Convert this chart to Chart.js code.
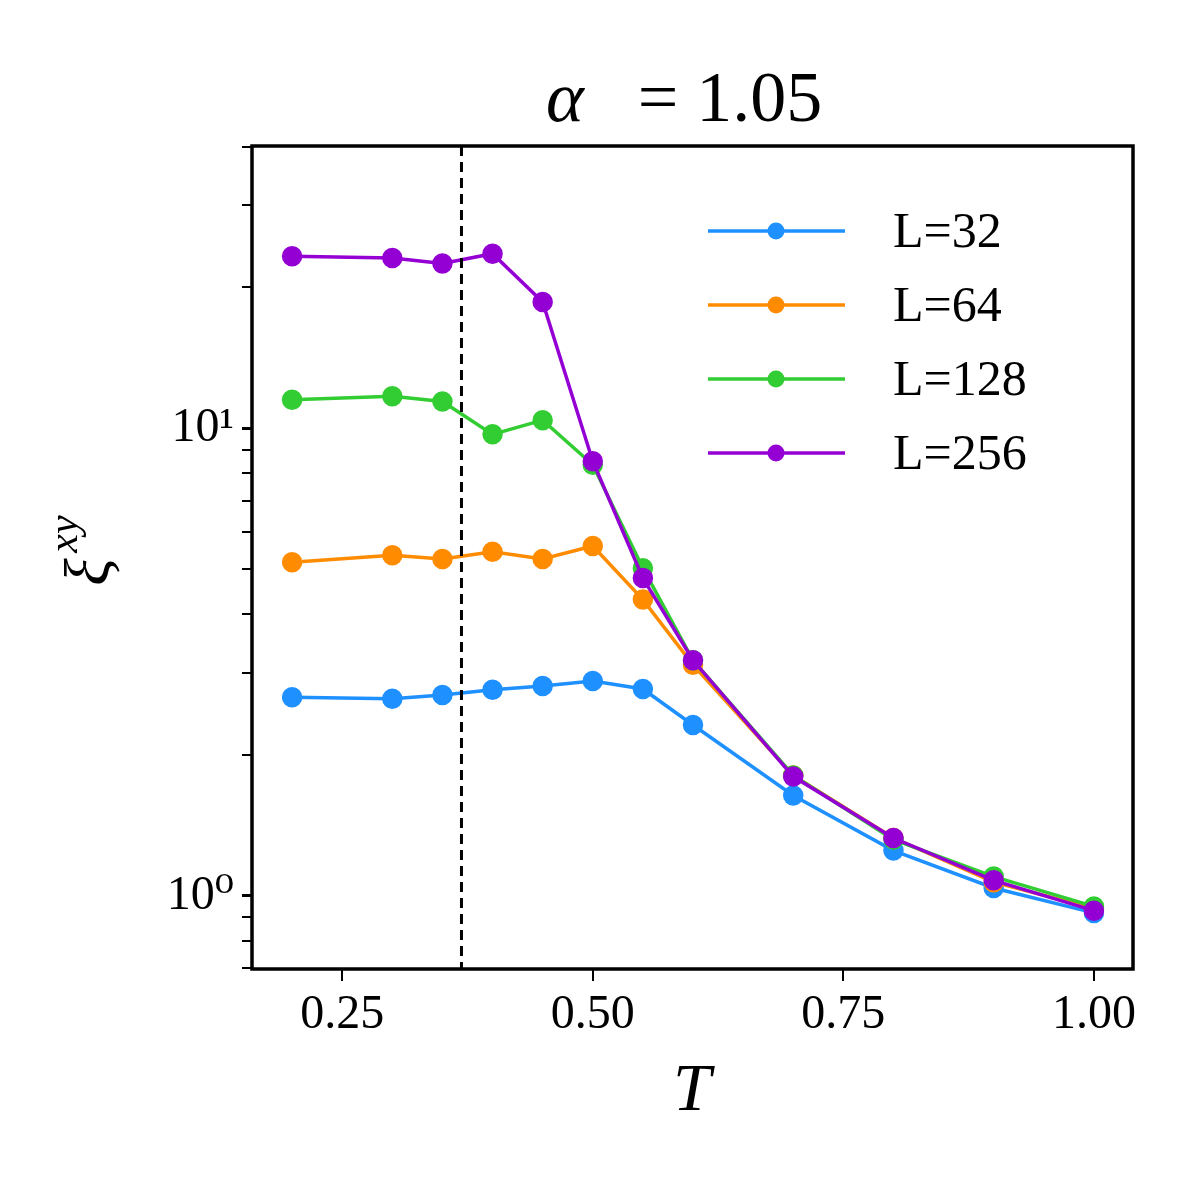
<!DOCTYPE html>
<html>
<head>
<meta charset="utf-8">
<script src="https://cdn.jsdelivr.net/npm/chart.js@4/dist/chart.umd.min.js"></script>
<style>body{margin:0;background:#fff}#wrap{width:1200px;height:1200px}</style>
</head>
<body>
<div id="wrap"><canvas id="c" width="1200" height="1200"></canvas></div>
<script>
const temps = [0.2, 0.3, 0.35, 0.4, 0.45, 0.5, 0.55, 0.6, 0.7, 0.8, 0.9, 1.0];
const xi32 = [2.66, 2.64, 2.69, 2.76, 2.81, 2.88, 2.77, 2.32, 1.64, 1.25, 1.04, 0.92];
const xi64 = [5.17, 5.35, 5.25, 5.44, 5.25, 5.60, 4.30, 3.12, 1.81, 1.33, 1.07, 0.94];
const xi128 = [11.5, 11.7, 11.4, 9.7, 10.4, 8.35, 5.02, 3.19, 1.81, 1.32, 1.10, 0.95];
const xi256 = [23.3, 23.1, 22.5, 23.6, 18.6, 8.5, 4.78, 3.19, 1.80, 1.33, 1.08, 0.93];
const labels = ['L=32', 'L=64', 'L=128', 'L=256'];
const colors = ['#1e90ff', '#ff8c00', '#32cd32', '#9400d3'];
const xTicks = [0.25, 0.5, 0.75, 1.0];
const yTicks = [0.7, 0.8, 0.9, 1, 2, 3, 4, 5, 6, 7, 8, 9, 10, 20, 30, 40];
const Tc = 0.369;

const series = [xi32, xi64, xi128, xi256];
const serif = '"Liberation Serif", "DejaVu Serif", serif';

const extras = {
  id: 'extras',
  afterDraw(chart) {
    const ctx = chart.ctx, a = chart.chartArea;
    const xs = chart.scales.x;
    ctx.save();
    // dashed Tc line
    const px = xs.getPixelForValue(Tc);
    ctx.strokeStyle = '#000'; ctx.lineWidth = 3; ctx.setLineDash([10, 6]);
    ctx.beginPath(); ctx.moveTo(px, a.top); ctx.lineTo(px, a.bottom); ctx.stroke();
    ctx.setLineDash([]);
    // frame
    ctx.lineWidth = 3.5;
    ctx.strokeRect(a.left, a.top, a.right - a.left, a.bottom - a.top);
    // legend
    ctx.font = '50px ' + serif; ctx.textBaseline = 'middle'; ctx.fillStyle = '#000';
    labels.forEach((lb, i) => {
      const y = 231 + i * 74;
      ctx.strokeStyle = colors[i]; ctx.lineWidth = 3.5;
      ctx.beginPath(); ctx.moveTo(708, y); ctx.lineTo(845, y); ctx.stroke();
      ctx.fillStyle = colors[i];
      ctx.beginPath(); ctx.arc(776, y, 8.5, 0, Math.PI * 2); ctx.fill();
      ctx.fillStyle = '#000';
      ctx.fillText(lb, 893, y + 3);
    });
    // titles
    ctx.textAlign = 'center';
    ctx.font = 'italic 72px ' + serif;
    ctx.fillText('α', 565, 102);
    ctx.font = '72px ' + serif;
    ctx.fillText('= 1.05', 730, 102);
    ctx.font = 'italic 68px ' + serif;
    ctx.fillText('T', 692, 1092);
    ctx.translate(92, 558); ctx.rotate(-Math.PI / 2);
    ctx.font = 'italic 64px ' + serif;
    ctx.fillText('ξ', -14, 0);
    ctx.font = 'italic 42px ' + serif;
    ctx.fillText('xy', 24, -26);
    ctx.restore();
  }
};

new Chart(document.getElementById('c'), {
  type: 'line',
  data: {
    datasets: series.map((s, i) => ({
      label: labels[i],
      data: temps.map((t, j) => ({ x: t, y: s[j] })),
      borderColor: colors[i], backgroundColor: colors[i],
      borderWidth: 3.5, pointRadius: 8.5, pointHoverRadius: 8.5, tension: 0,
      order: 3 - i
    }))
  },
  options: {
    responsive: false, animation: false, devicePixelRatio: 1,
    layout: { padding: { top: 146, right: 67, left: 0, bottom: 0 } },
    plugins: { legend: { display: false }, tooltip: { enabled: false } },
    scales: {
      x: {
        type: 'linear', min: 0.16, max: 1.039,
        afterBuildTicks: s => { s.ticks = xTicks.map(v => ({ value: v })); },
        afterFit: s => { s.height = 231; },
        grid: { drawOnChartArea: false, tickLength: 12, lineWidth: 2, color: '#000' },
        border: { display: false },
        ticks: { color: '#000', font: { family: serif, size: 48 }, padding: 6,
          callback: v => v.toFixed(2), maxRotation: 0 }
      },
      y: {
        type: 'logarithmic', min: 0.698, max: 40.1,
        afterBuildTicks: s => { s.ticks = yTicks.map(v => ({ value: v })); },
        afterFit: s => { s.width = 252; },
        grid: { drawOnChartArea: false, color: '#000',
          tickLength: 10, lineWidth: c => (c.tick && (c.tick.value === 1 || c.tick.value === 10)) ? 3 : 2 },
        border: { display: false },
        ticks: { color: '#000', font: { family: serif, size: 48 }, padding: 8, autoSkip: false,
          callback: v => v === 1 ? '10⁰' : v === 10 ? '10¹' : '' }
      }
    }
  },
  plugins: [extras]
});
</script>
</body>
</html>
